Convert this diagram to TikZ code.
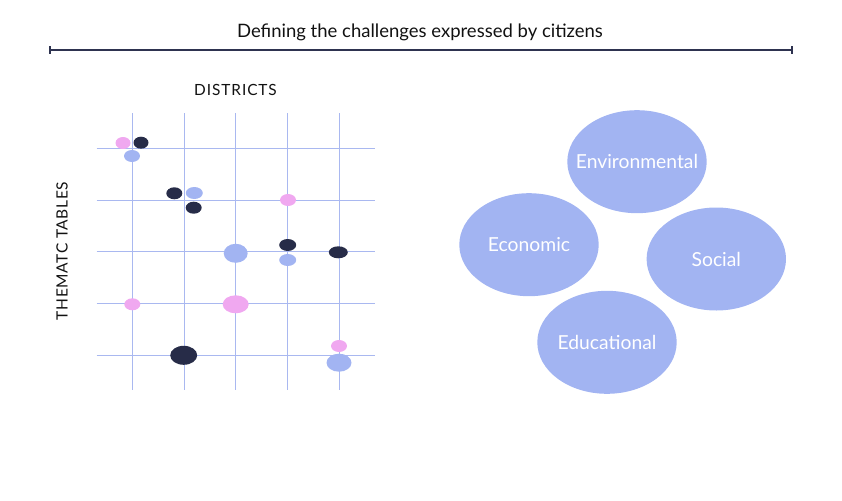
\documentclass[tikz,border=0pt]{standalone}
\usepackage{fontspec}
\setmainfont{Lato}
\usetikzlibrary{shapes.geometric}
\definecolor{cblue}{HTML}{A2B4F2}
\definecolor{cdark}{HTML}{272C48}
\definecolor{cpink}{HTML}{F0A8F0}
\definecolor{cgrid}{HTML}{A9B8F0}
\definecolor{cline}{HTML}{2E3350}
\definecolor{ctext}{HTML}{111111}
\begin{document}
\begin{tikzpicture}[x=1pt,y=-1pt,
  gridline/.style={draw=cgrid,line width=1pt},
  dot/.style={ellipse,inner sep=0pt,minimum width=#1,draw=none},
  bluedot/.style={dot=#1,fill=cblue},
  darkdot/.style={dot=#1,fill=cdark},
  pinkdot/.style={dot=#1,fill=cpink},
  bubble/.style={ellipse,fill=cblue,minimum width=139.4pt,minimum height=103pt,inner sep=0pt,
    label={[text=white,inner sep=0pt,font=\fontsize{19.3}{22}\selectfont]center:#1}},
  lbl/.style={text=ctext,inner sep=0pt}]
\useasboundingbox (0,0) rectangle (842,500);
% title and bar
\node[lbl,font=\fontsize{18.5}{22}\selectfont] (title) at (420,32) {Defining the challenges expressed by citizens};
\coordinate (barL) at (50,50);
\coordinate (barR) at (792,50);
\draw[cline,line width=1.5pt] (barL) -- (barR);
\draw[cline,line width=1.5pt] ([yshift=-4pt]barL) -- ([yshift=4pt]barL);
\draw[cline,line width=1.5pt] ([yshift=-4pt]barR) -- ([yshift=4pt]barR);
% axis labels
\node[lbl,font=\fontsize{15.4}{18}\selectfont\addfontfeatures{LetterSpace=6}] (districts) at (235.5,90) {DISTRICTS};
\node[lbl,rotate=90,font=\fontsize{15.5}{18}\selectfont\addfontfeatures{LetterSpace=4}] (tables) at (62,251) {THEMATC TABLES};
% grid
\foreach \x/\n in {132/1,184.3/2,235.7/3,287.7/4,339/5}{
  \coordinate (vt\n) at (\x,113);
  \coordinate (vb\n) at (\x,390);
  \draw[gridline] (vt\n) -- (vb\n);
}
\foreach \y/\n in {148.3/1,200/2,251.7/3,303.7/4,355/5}{
  \coordinate (hl\n) at (96.7,\y);
  \coordinate (hr\n) at (375,\y);
  \draw[gridline] (hl\n) -- (hr\n);
}
% dots
\node[pinkdot=15pt,minimum height=12pt] (d1) at (123,143) {};
\node[darkdot=15pt,minimum height=12pt] (d2) at (141,142.7) {};
\node[bluedot=16pt,minimum height=12pt] (d3) at (132,156) {};
\node[darkdot=16pt,minimum height=12pt] (d4) at (174.3,193.3) {};
\node[bluedot=17pt,minimum height=12pt] (d5) at (194.3,193) {};
\node[darkdot=16pt,minimum height=12pt] (d6) at (193.7,207.7) {};
\node[pinkdot=16pt,minimum height=12pt] (d7) at (288,200) {};
\node[bluedot=24pt,minimum height=19pt] (d8) at (235.7,253.3) {};
\node[darkdot=17pt,minimum height=12pt] (d9) at (287.7,245) {};
\node[bluedot=17pt,minimum height=12pt] (d10) at (287.7,260) {};
\node[darkdot=19pt,minimum height=12pt] (d11) at (338.3,252.3) {};
\node[pinkdot=16pt,minimum height=12pt] (d12) at (132.3,304.3) {};
\node[pinkdot=26pt,minimum height=18pt] (d13) at (235.7,304.3) {};
\node[darkdot=27pt,minimum height=19pt] (d14) at (183.7,355.3) {};
\node[pinkdot=16pt,minimum height=12pt] (d15) at (339,346) {};
\node[bluedot=25pt,minimum height=18pt] (d16) at (339,362.7) {};
% bubbles
\node[bubble=Environmental] (env) at (637,161.7) {};
\node[bubble=Economic] (eco) at (529,244.7) {};
\node[bubble=Social] (soc) at (716.3,259) {};
\node[bubble=Educational] (edu) at (607,342.3) {};
\end{tikzpicture}
\end{document}
